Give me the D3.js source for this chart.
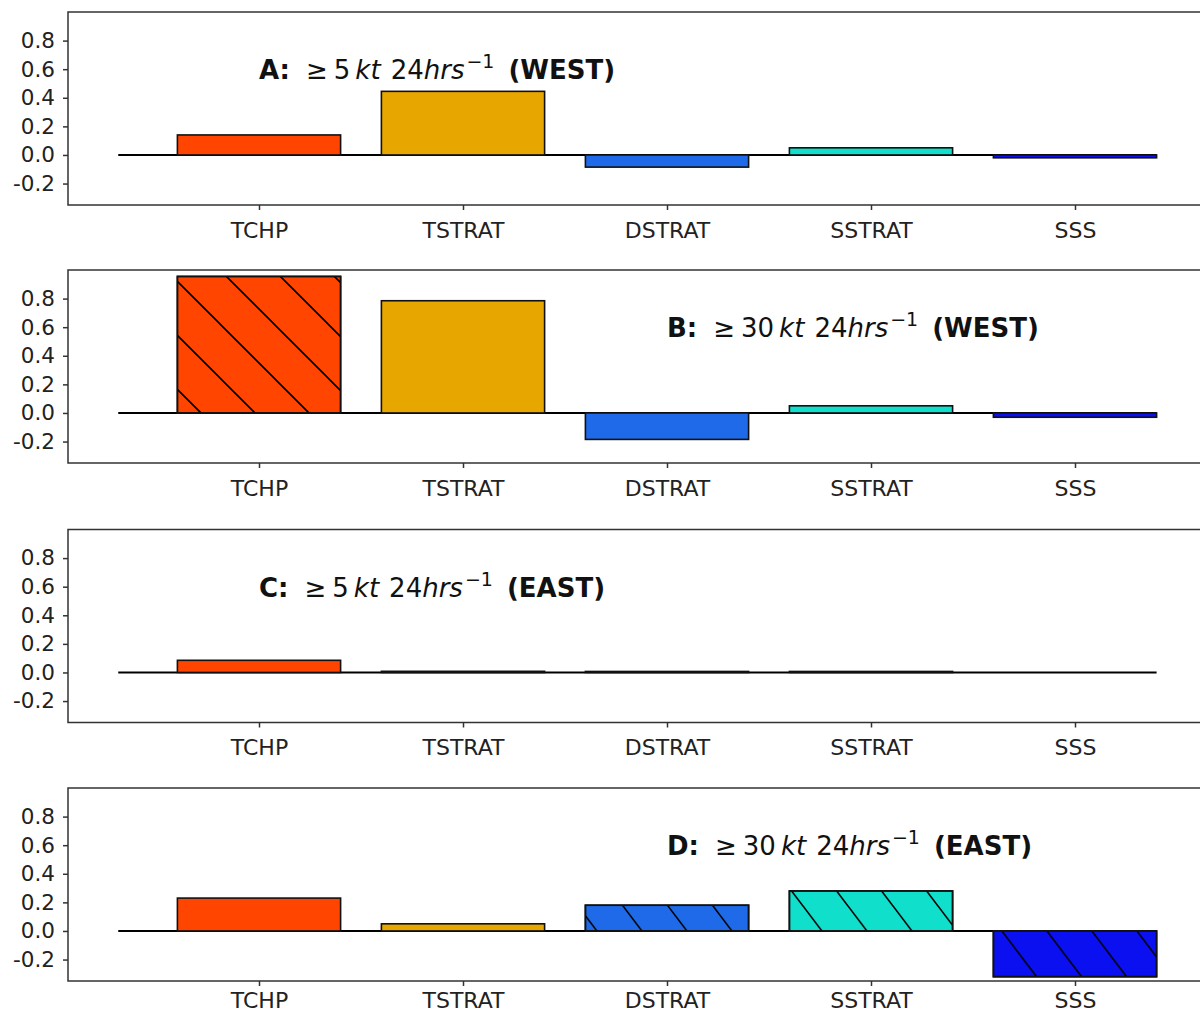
<!DOCTYPE html>
<html>
<head>
<meta charset="utf-8">
<script src="https://cdn.jsdelivr.net/npm/d3@7"></script>
<style>
  html, body { margin: 0; padding: 0; background: #fff; }
  svg { display: block; }
</style>
</head>
<body>
<svg id="chart" width="1200" height="1015"></svg>
<script>
// ---- data ----
const categories = ["TCHP", "TSTRAT", "DSTRAT", "SSTRAT", "SSS"];
const colors = ["#FF4500", "#E8A600", "#1E6AE8", "#10DFCB", "#0A10F0"];
const panelA = [0.14, 0.445, -0.085, 0.05, -0.02];
const panelB = [0.955, 0.785, -0.185, 0.05, -0.03];
const panelC = [0.085, 0.008, 0.007, 0.007, 0.0];
const panelD = [0.23, 0.05, 0.18, 0.28, -0.32];
const hatchA = [false, false, false, false, false];
const hatchB = [true, false, false, false, false];
const hatchC = [false, false, false, false, false];
const hatchD = [false, false, true, true, true];
const yTicks = [-0.2, 0.0, 0.2, 0.4, 0.6, 0.8];
const panelLabels = ["A:", "B:", "C:", "D:"];
const thresholds = ["5", "30", "5", "30"];
const regions = ["(WEST)", "(WEST)", "(EAST)", "(EAST)"];
const labelPos = [0, 2, 0, 2];   // category position of the panel title
const labelY = 0.53;             // data value of title baseline

const panels = [
  {values: panelA, hatch: hatchA},
  {values: panelB, hatch: hatchB},
  {values: panelC, hatch: hatchC},
  {values: panelD, hatch: hatchD}
];

// ---- layout ----
const svg = d3.select("#chart");
const tops = [12, 270, 529.5, 788];
const panelH = 193;
const leftX = 68;
const rightX = 1215;
const font = "'DejaVu Sans', sans-serif";

const x = d3.scaleLinear().domain([0, 4]).range([259, 1075]);
const barW = 0.8;

// hatch patterns
const defs = svg.append("defs");
function hatchPattern(id, W, slope, ox, oy) {
  const H = W * slope;
  const p = defs.append("pattern")
    .attr("id", id)
    .attr("patternUnits", "userSpaceOnUse")
    .attr("x", ox).attr("y", oy)
    .attr("width", W).attr("height", H);
  const d = [-1, 0, 1].map(k => `M${k * W - W},${-H} L${k * W + 2 * W},${2 * H}`).join(" ");
  p.append("path").attr("d", d).attr("stroke", "#000").attr("stroke-width", 1.6).attr("fill", "none");
}
hatchPattern("hatchB", 54, 1.0, 4, 0);
hatchPattern("hatchD", 45, 1.32, 623, 906);
const hatchIds = [null, "hatchB", null, "hatchD"];

panels.forEach((pn, pi) => {
  const top = tops[pi];
  const y = d3.scaleLinear().domain([-0.35, 1.0]).range([top + panelH, top]);
  const g = svg.append("g");

  // zero line
  g.append("line")
    .attr("x1", x(-0.69)).attr("x2", x(4.4))
    .attr("y1", y(0)).attr("y2", y(0))
    .attr("stroke", "#000").attr("stroke-width", 2);

  // bars
  pn.values.forEach((v, i) => {
    const x0 = x(i - barW / 2), x1 = x(i + barW / 2);
    const y0 = y(Math.max(v, 0)), y1 = y(Math.min(v, 0));
    g.append("rect")
      .attr("x", x0).attr("y", y0)
      .attr("width", x1 - x0).attr("height", Math.max(y1 - y0, 0))
      .attr("fill", colors[i])
      .attr("stroke", "#111").attr("stroke-width", 1.6);
    if (pn.hatch[i]) {
      g.append("rect")
        .attr("x", x0).attr("y", y0)
        .attr("width", x1 - x0).attr("height", Math.max(y1 - y0, 0))
        .attr("fill", `url(#${hatchIds[pi]})`)
        .attr("stroke", "#111").attr("stroke-width", 1.6);
    }
  });

  // spines
  g.append("path")
    .attr("d", `M${rightX},${top} H${leftX} V${top + panelH} H${rightX}`)
    .attr("fill", "none").attr("stroke", "#333").attr("stroke-width", 1.5);

  // y axis
  const yAxis = d3.axisLeft(y).tickValues(yTicks).tickSize(5).tickPadding(8)
    .tickFormat(d3.format(".1f"));
  const ya = svg.append("g").attr("transform", `translate(${leftX},0)`).call(yAxis);
  ya.select(".domain").remove();
  ya.selectAll(".tick line").attr("stroke", "#333").attr("stroke-width", 1.5);
  ya.selectAll(".tick text").attr("font-family", font).attr("font-size", 21.5)
    .attr("fill", "#222").text(d => d3.format(".1f")(d).replace("−", "-"));

  // x axis
  const xAxis = d3.axisBottom(x).tickValues([0, 1, 2, 3, 4]).tickSize(5).tickPadding(pi === 3 ? 6 : 12)
    .tickFormat(i => categories[i]);
  const xa = svg.append("g").attr("transform", `translate(0,${top + panelH})`).call(xAxis);
  xa.select(".domain").remove();
  xa.selectAll(".tick line").attr("stroke", "#333").attr("stroke-width", 1.5);
  xa.selectAll(".tick text").attr("font-family", font).attr("font-size", 22).attr("fill", "#222");

  // title
  const t = svg.append("text")
    .attr("x", x(labelPos[pi]))
    .attr("y", y(labelY))
    .attr("font-family", font).attr("font-size", 26).attr("fill", "#111");
  t.append("tspan").attr("font-weight", "bold").text(panelLabels[pi]);
  t.append("tspan").attr("dx", 16).text("≥");
  t.append("tspan").attr("dx", 6).text(thresholds[pi]);
  t.append("tspan").attr("dx", 5).attr("font-style", "italic").text("kt");
  t.append("tspan").attr("dx", 10).text("24");
  t.append("tspan").attr("font-style", "italic").text("hrs");
  t.append("tspan").attr("font-size", 19).attr("dy", -11).attr("dx", 2).text("−1");
  t.append("tspan").attr("dy", 11).attr("dx", 14).attr("font-weight", "bold").text(regions[pi]);
});
</script>
</body>
</html>
